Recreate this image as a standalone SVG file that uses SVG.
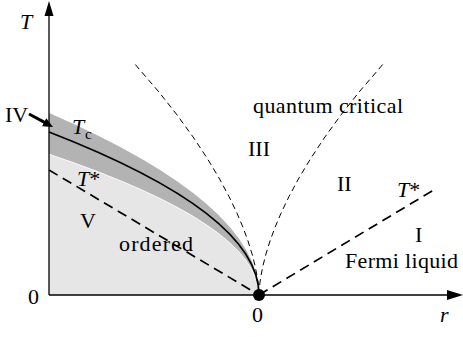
<svg xmlns="http://www.w3.org/2000/svg" width="463" height="337" viewBox="0 0 463 337">
<style>
text{font-family:"Liberation Serif","Times New Roman",Times,serif;font-size:22px;fill:#000}
.it{font-style:italic}
.thick{fill:none;stroke:#000;stroke-width:1.7;stroke-dasharray:10 6}
.thin{fill:none;stroke:#000;stroke-width:1;stroke-dasharray:6 4}
.axis{fill:none;stroke:#000;stroke-width:1.3}
</style>
<rect width="463" height="337" fill="#fff"/>
<g id="regions">
<path d="M49 113 Q259 204 259 295 L49 295 Z" fill="#e6e6e6"/>
<path d="M49 113 Q259 204 259 295 Q259 224.3 49 153.7 Z" fill="#b3b3b3"/>
<path d="M49 154.3 Q258.6 224.8 258.6 295" fill="none" stroke="#fff" stroke-width="0.9" stroke-opacity="0.75"/>
</g>
<g id="connectors">
<path id="Tc-line" d="M49 132 Q259 213.5 259 295" fill="none" stroke="#000" stroke-width="1.8"/>
<path id="Tstar-left" class="thick" d="M49 170 L259 295"/>
<path id="Tstar-right" class="thick" d="M259 295 L437 188"/>
<polyline id="crossover-left" class="thin" points="259,295 258.5,286.6 258,282.2 257,275.6 255,265.6 252,253.9 248,241 243,227.4 237,213.2 229,196.5 219,177.9 207,158 193,136.9 177,114.9 159,92.1 135,64.2"/>
<polyline id="crossover-right" class="thin" points="259,295 259.5,286.6 260,282.2 261,275.6 263,265.6 266,253.9 270,241 275,227.4 281,213.2 289,196.5 299,177.9 311,158 325,136.9 341,114.9 359,92.1 383,64.2"/>
<g id="axes">
<line class="axis" x1="49" y1="295" x2="49" y2="14"/>
<polygon points="49,1 44.5,16 53.5,16" fill="#000"/>
<line class="axis" x1="49" y1="295" x2="449" y2="295"/>
<polygon points="463,295 447,290 447,300" fill="#000"/>
</g>
<g id="IV-arrow">
<line x1="29" y1="114" x2="45" y2="122.6" stroke="#000" stroke-width="3"/>
<polygon points="53,127 42.1,126.2 46.3,118.2" fill="#000"/>
</g>
</g>
<g id="qcp"><circle cx="259" cy="295" r="6" fill="#000"/></g>
<g id="labels" font-family="Liberation Serif, Times New Roman, serif">
<text id="label-T" class="it" x="20" y="29">T</text>
<text id="label-IV" x="5" y="122">IV</text>
<text id="label-Tc" x="72" y="134"><tspan class="it">T</tspan><tspan x="85" y="139" font-size="15">c</tspan></text>
<text id="label-Tstar-left" x="77" y="186"><tspan class="it">T</tspan>*</text>
<text id="label-V" x="80" y="228">V</text>
<text id="label-ordered" x="119" y="251" textLength="74" lengthAdjust="spacing">ordered</text>
<text id="label-zero-T" x="28" y="304">0</text>
<text id="label-zero-r" x="252" y="322">0</text>
<text id="label-r" class="it" x="440" y="322">r</text>
<text id="label-qc" x="253" y="113" textLength="150" lengthAdjust="spacing">quantum critical</text>
<text id="label-III" x="248" y="156">III</text>
<text id="label-II" x="337" y="191">II</text>
<text id="label-Tstar-right" x="397" y="197"><tspan class="it">T</tspan>*</text>
<text id="label-I" x="415" y="242">I</text>
<text id="label-fl" x="345" y="268" textLength="113" lengthAdjust="spacing">Fermi liquid</text>
</g>
</svg>
